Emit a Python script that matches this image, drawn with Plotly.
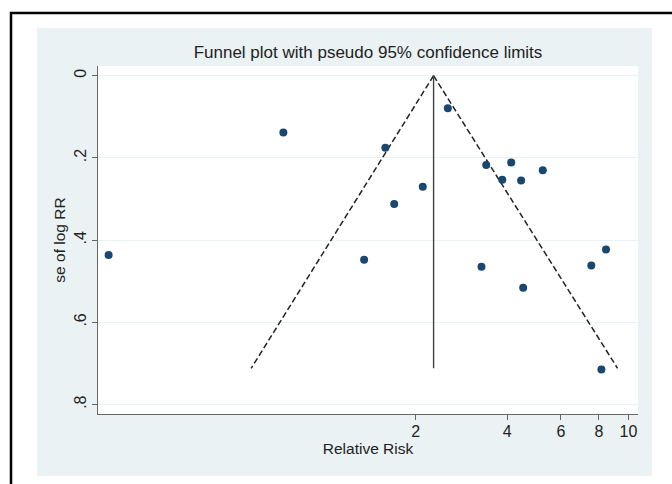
import plotly.graph_objects as go

# Study estimates
rr = [0.196, 0.735, 1.354, 1.59, 1.70, 2.11, 2.55, 3.41, 3.29, 3.85,
      4.12, 4.44, 4.51, 5.23, 7.55, 8.44, 8.15]
se = [0.436, 0.138, 0.448, 0.175, 0.312, 0.270, 0.079, 0.217, 0.465, 0.253,
      0.211, 0.255, 0.516, 0.230, 0.4615, 0.4226, 0.715]

# Pooled estimate and pseudo 95% limits
pooled_rr = [2.29, 2.29]
funnel_se = [0.0, 0.712]
lower_limit = [2.29, 0.576]
upper_limit = [2.29, 9.21]

xtick_vals = [2, 4, 6, 8, 10]
xtick_text = ["2", "4", "6", "8", "10"]
ytick_vals = [0, 0.2, 0.4, 0.6, 0.8]
ytick_text = ["0", ".2", ".4", ".6", ".8"]

W, H = 672, 484
ML, MR, MT, MB = 98, 34, 66, 70
PW, PH = W - ML - MR, H - MT - MB

def px(p):
    return (p - ML) / PW

def py(p):
    return (H - MB - p) / PH

BG = "#EAF2F3"
NAVY = "#1A476F"
AX = "#666666"
TXT = "#222222"

fig = go.Figure()
fig.add_trace(go.Scatter(x=lower_limit, y=funnel_se, mode="lines",
                         line=dict(color="#222222", width=1.5, dash="6px,3px"),
                         showlegend=False, hoverinfo="skip"))
fig.add_trace(go.Scatter(x=upper_limit, y=funnel_se, mode="lines",
                         line=dict(color="#222222", width=1.5, dash="6px,3px"),
                         showlegend=False, hoverinfo="skip"))
fig.add_trace(go.Scatter(x=pooled_rr, y=funnel_se, mode="lines",
                         line=dict(color="#444444", width=1.4),
                         showlegend=False, hoverinfo="skip"))
fig.add_trace(go.Scatter(x=rr, y=se, mode="markers",
                         marker=dict(color=NAVY, size=8, line=dict(width=0)),
                         showlegend=False))

shapes = [
    dict(type="rect", xref="paper", yref="paper", layer="below",
         x0=px(37), x1=px(652), y0=py(476), y1=py(28),
         fillcolor=BG, line=dict(width=0)),
    dict(type="rect", xref="paper", yref="paper", layer="below",
         x0=0, x1=1, y0=0, y1=1, fillcolor="white", line=dict(width=0)),
    dict(type="rect", xref="paper", yref="paper", layer="above",
         x0=px(11), x1=px(700), y0=py(500), y1=py(13),
         fillcolor="rgba(0,0,0,0)", line=dict(color="black", width=2.5)),
]

fig.update_layout(
    width=W, height=H,
    margin=dict(l=ML, r=MR, t=MT, b=MB),
    paper_bgcolor="white",
    plot_bgcolor="rgba(0,0,0,0)",
    font=dict(family="Liberation Sans, Arial, sans-serif", color=TXT, size=15),
    title=dict(text="Funnel plot with pseudo 95% confidence limits",
               x=0.5, xref="paper", xanchor="center",
               y=1 - 52 / H, yanchor="middle",
               font=dict(size=17, color=TXT)),
    shapes=shapes,
    xaxis=dict(type="log", range=[-0.7427, 1.0314],
               tickvals=xtick_vals, ticktext=xtick_text,
               ticks="outside", ticklen=5, tickcolor=AX, tickwidth=1,
               ticklabelstandoff=-2,
               showline=True, linecolor=AX, linewidth=1,
               showgrid=False, zeroline=False,
               tickfont=dict(size=16, color=TXT),
               title=dict(text="Relative Risk", font=dict(size=15.5, color=TXT),
                          standoff=2)),
    yaxis=dict(range=[0.823, -0.0236],
               tickvals=ytick_vals, ticktext=ytick_text, tickangle=-90,
               ticks="outside", ticklen=5, tickcolor=AX, tickwidth=1,
               showline=True, linecolor=AX, linewidth=1,
               showgrid=True, gridcolor=BG, gridwidth=1, zeroline=False,
               tickfont=dict(size=16, color=TXT),
               title=dict(text="se of log RR", font=dict(size=15.5, color=TXT),
                          standoff=2)),
)

fig.write_html("out.html")
